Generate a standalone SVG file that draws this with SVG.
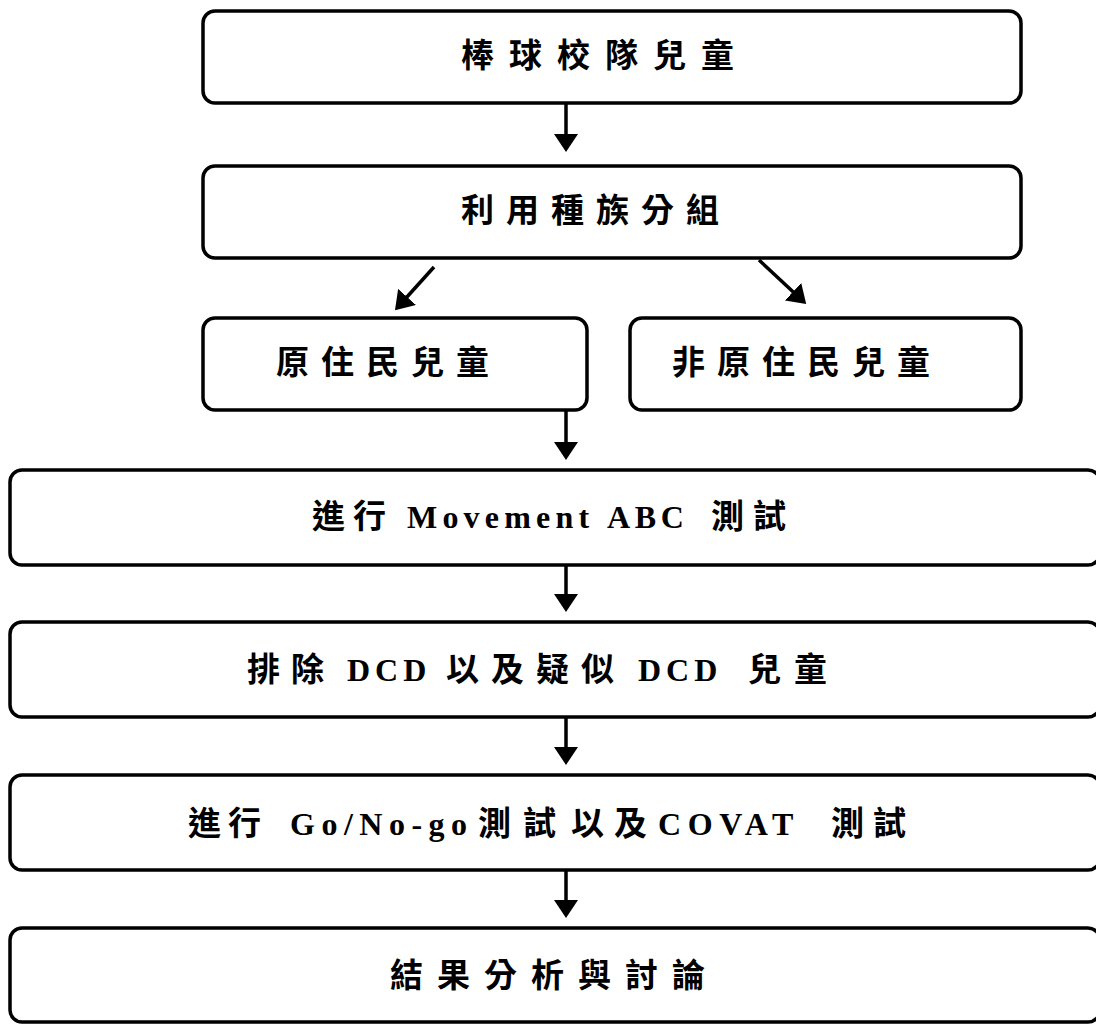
<svg xmlns="http://www.w3.org/2000/svg" width="1096" height="1025" viewBox="0 0 1096 1025">
  <style>
    .box { fill: #ffffff; stroke: #000000; stroke-width: 3.5; }
    .lbl { font-family: "Liberation Serif", "Noto Sans CJK TC", serif; font-weight: 700; font-size: 33px; fill: #000000; }
    .lat { font-family: "Liberation Serif", serif; font-size: 32px; }
    .conn { stroke: #000000; stroke-width: 3.5; fill: none; }
  </style>
  <defs>
    <marker id="ah" viewBox="0 0 18 24" refX="15" refY="12" markerWidth="18" markerHeight="24" markerUnits="userSpaceOnUse" orient="auto">
      <path d="M0,0 L18,12 L0,24 z" fill="#000000"/>
    </marker>
  </defs>
  <rect x="0" y="0" width="1096" height="1025" fill="#ffffff"/>

  <g id="connectors">
    <line class="conn" x1="566" y1="104" x2="566" y2="149" marker-end="url(#ah)"/>
    <line class="conn" x1="434" y1="267" x2="397" y2="308" marker-end="url(#ah)"/>
    <line class="conn" x1="759" y1="260" x2="804" y2="302" marker-end="url(#ah)"/>
    <line class="conn" x1="566" y1="411" x2="566" y2="457" marker-end="url(#ah)"/>
    <line class="conn" x1="566" y1="566" x2="566" y2="609" marker-end="url(#ah)"/>
    <line class="conn" x1="566" y1="718" x2="566" y2="762" marker-end="url(#ah)"/>
    <line class="conn" x1="566" y1="871" x2="566" y2="915" marker-end="url(#ah)"/>
  </g>

  <g id="node-baseball">
    <rect class="box" x="203" y="11" width="818" height="92" rx="12"/>
    <text class="lbl" x="461 509 557 605 653 701" y="67">棒球校隊兒童</text>
  </g>

  <g id="node-group">
    <rect class="box" x="203" y="166" width="818" height="92" rx="12"/>
    <text class="lbl" x="461 506 551 596 641 686" y="222">利用種族分組</text>
  </g>

  <g id="node-aboriginal">
    <rect class="box" x="203" y="318" width="384" height="92" rx="12"/>
    <text class="lbl" x="276 321 366 411 456" y="374">原住民兒童</text>
  </g>

  <g id="node-non-aboriginal">
    <rect class="box" x="630" y="318" width="391" height="92" rx="12"/>
    <text class="lbl" x="672 717 762 807 852 897" y="374">非原住民兒童</text>
  </g>

  <g id="node-mabc">
    <rect class="box" x="10" y="470" width="1090" height="95" rx="12"/>
    <text class="lbl" y="528"><tspan x="312 353">進行</tspan><tspan class="lat" x="407" letter-spacing="5.2">Movement</tspan><tspan class="lat" x="607" letter-spacing="4.7">ABC</tspan><tspan x="711 753">測試</tspan></text>
  </g>

  <g id="node-exclude">
    <rect class="box" x="10" y="622" width="1090" height="95" rx="12"/>
    <text class="lbl" y="681"><tspan x="247 291">排除</tspan><tspan class="lat" x="347" letter-spacing="5">DCD</tspan><tspan x="446 491 536 581">以及疑似</tspan><tspan class="lat" x="638" letter-spacing="5">DCD</tspan><tspan x="748 794">兒童</tspan></text>
  </g>

  <g id="node-gonogo">
    <rect class="box" x="10" y="775" width="1090" height="95" rx="12"/>
    <text class="lbl" y="835"><tspan x="188 228">進行</tspan><tspan class="lat" x="290" letter-spacing="6.5">Go/No-go</tspan><tspan x="478 523 571 614">測試以及</tspan><tspan class="lat" x="658" letter-spacing="6.6">COVAT</tspan><tspan x="831 873">測試</tspan></text>
  </g>

  <g id="node-result">
    <rect class="box" x="10" y="928" width="1090" height="94" rx="12"/>
    <text class="lbl" x="390 437 484 531 578 625 672" y="987">結果分析與討論</text>
  </g>
</svg>
